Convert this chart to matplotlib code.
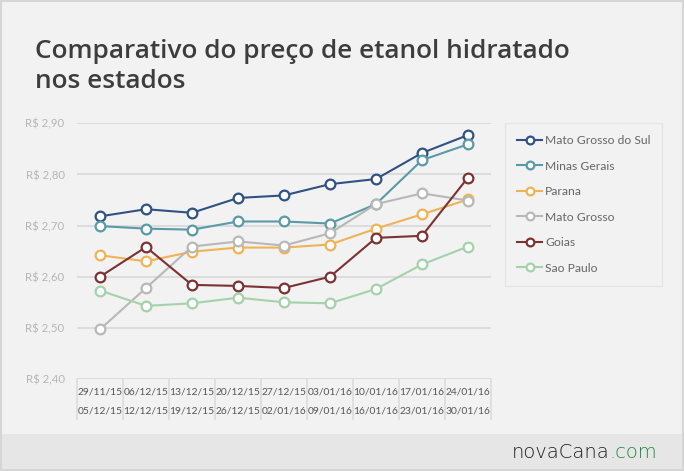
import matplotlib
matplotlib.use("Agg")
import matplotlib.pyplot as plt
import matplotlib.transforms as mtransforms
from matplotlib.patches import Rectangle

plt.rcParams['font.family'] = ['Lato', 'DejaVu Sans']

# weeks (start / end)
week_start = ['29/11/15', '06/12/15', '13/12/15', '20/12/15', '27/12/15',
              '03/01/16', '10/01/16', '17/01/16', '24/01/16']
week_end = ['05/12/15', '12/12/15', '19/12/15', '26/12/15', '02/01/16',
            '09/01/16', '16/01/16', '23/01/16', '30/01/16']

states = ['Mato Grosso do Sul', 'Minas Gerais', 'Parana', 'Mato Grosso',
          'Goias', 'Sao Paulo']

mato_grosso_do_sul = [2.718, 2.732, 2.725, 2.754, 2.759, 2.781, 2.791, 2.842, 2.877]
minas_gerais = [2.699, 2.694, 2.692, 2.708, 2.708, 2.704, 2.742, 2.828, 2.859]
parana = [2.642, 2.630, 2.649, 2.657, 2.657, 2.663, 2.694, 2.722, 2.751]
mato_grosso = [2.497, 2.578, 2.659, 2.669, 2.661, 2.685, 2.742, 2.763, 2.749]
goias = [2.600, 2.658, 2.584, 2.582, 2.578, 2.600, 2.676, 2.680, 2.794]
sao_paulo = [2.573, 2.543, 2.548, 2.559, 2.550, 2.548, 2.576, 2.624, 2.659]

series = [mato_grosso_do_sul, minas_gerais, parana, mato_grosso, goias, sao_paulo]
colors = ['#2f5283', '#5a9aa6', '#f0b354', '#b8b8b8', '#7b3233', '#a3d2ab']

y_ticks = [2.40, 2.50, 2.60, 2.70, 2.80, 2.90]

W, H = 684, 471
fig = plt.figure(figsize=(W / 100, H / 100), dpi=100, facecolor='#f2f2f2')

# footer band and outer frame
fig.patches.append(Rectangle((0, 0), 1, 37 / H, transform=fig.transFigure,
                             facecolor='#e6e6e6', edgecolor='none', zorder=0))
fig.patches.append(Rectangle((0.001, 0.0015), 0.997, 0.997, transform=fig.transFigure,
                             facecolor='none', edgecolor='#d6d6d6', linewidth=1.5, zorder=5))

ax = fig.add_axes([77 / W, 1 - 379 / H, 414 / W, 255.7 / H])
ax.set_facecolor('#f2f2f2')

x = list(range(len(week_start)))
for vals, name, c in zip(series, states, colors):
    ax.plot(x, vals, color=c, linewidth=1.5, marker='o', markersize=7,
            markerfacecolor='white', markeredgecolor=c, markeredgewidth=1.6,
            label=name, clip_on=False, zorder=3)

ax.set_xlim(-0.5, len(x) - 0.5)
ax.set_ylim(y_ticks[0], y_ticks[-1])
ax.set_yticks(y_ticks)
ax.set_yticklabels(['R$ ' + f'{v:.2f}'.replace('.', ',') for v in y_ticks],
                   color='#b5b5b5', fontsize=8.2)
ax.tick_params(axis='y', length=0, pad=9)
ax.grid(axis='y', color='#dcdcdc', linewidth=1.4)
ax.set_axisbelow(True)
for s in ax.spines.values():
    s.set_visible(False)

# date table under the axis
ax.set_xticks(x)
ax.set_xticklabels([a + '\n' + b for a, b in zip(week_start, week_end)],
                   color='#555555', fontsize=7.4, linespacing=2.4)
ax.tick_params(axis='x', length=0, pad=6)
trans = mtransforms.blended_transform_factory(ax.transData, ax.transAxes)
for i in range(len(x) + 1):
    ax.plot([i - 0.5, i - 0.5], [0, -40 / 255.7], transform=trans,
            color='#dcdcdc', linewidth=1.2, clip_on=False, zorder=1)

leg = ax.legend(loc='upper left', bbox_to_anchor=(505 / W, 1 - 123 / H),
                bbox_transform=fig.transFigure, frameon=True, fancybox=False,
                fontsize=8.7, labelcolor='#666666', handlelength=2.1,
                handletextpad=0.2, labelspacing=1.2, borderpad=1.0,
                borderaxespad=0, markerscale=0.8)
leg.get_frame().set_facecolor('#f2f2f2')
leg.get_frame().set_edgecolor('#e4e4e4')
leg.get_frame().set_linewidth(1.0)

# title
title_font = ['Open Sans', 'Lato', 'DejaVu Sans']
fig.text(35 / W, 1 - 58 / H, 'Comparativo do preço de etanol hidratado',
         fontsize=18.9, fontweight='semibold', color='#3d3d3d', va='baseline',
         family=title_font)
fig.text(35 / W, 1 - 88 / H, 'nos estados',
         fontsize=18.9, fontweight='semibold', color='#3d3d3d', va='baseline',
         family=title_font)

# footer logo
nova = fig.text(512 / W, 1 - 458 / H, 'novaCana', fontsize=14, color='#1e1e1e',
                fontweight='light', ha='left', va='baseline', family=['DejaVu Sans'])
fig.text(0, 0, '.com', fontsize=14, color='#1f8a3f', fontweight='light',
         ha='left', va='baseline', family=['DejaVu Sans'])
fig.canvas.draw()
bb = nova.get_window_extent()
fig.texts[-1].set_position((bb.x1 / W, 1 - 458 / H))

fig.savefig('out.png', dpi=100, facecolor=fig.get_facecolor())
